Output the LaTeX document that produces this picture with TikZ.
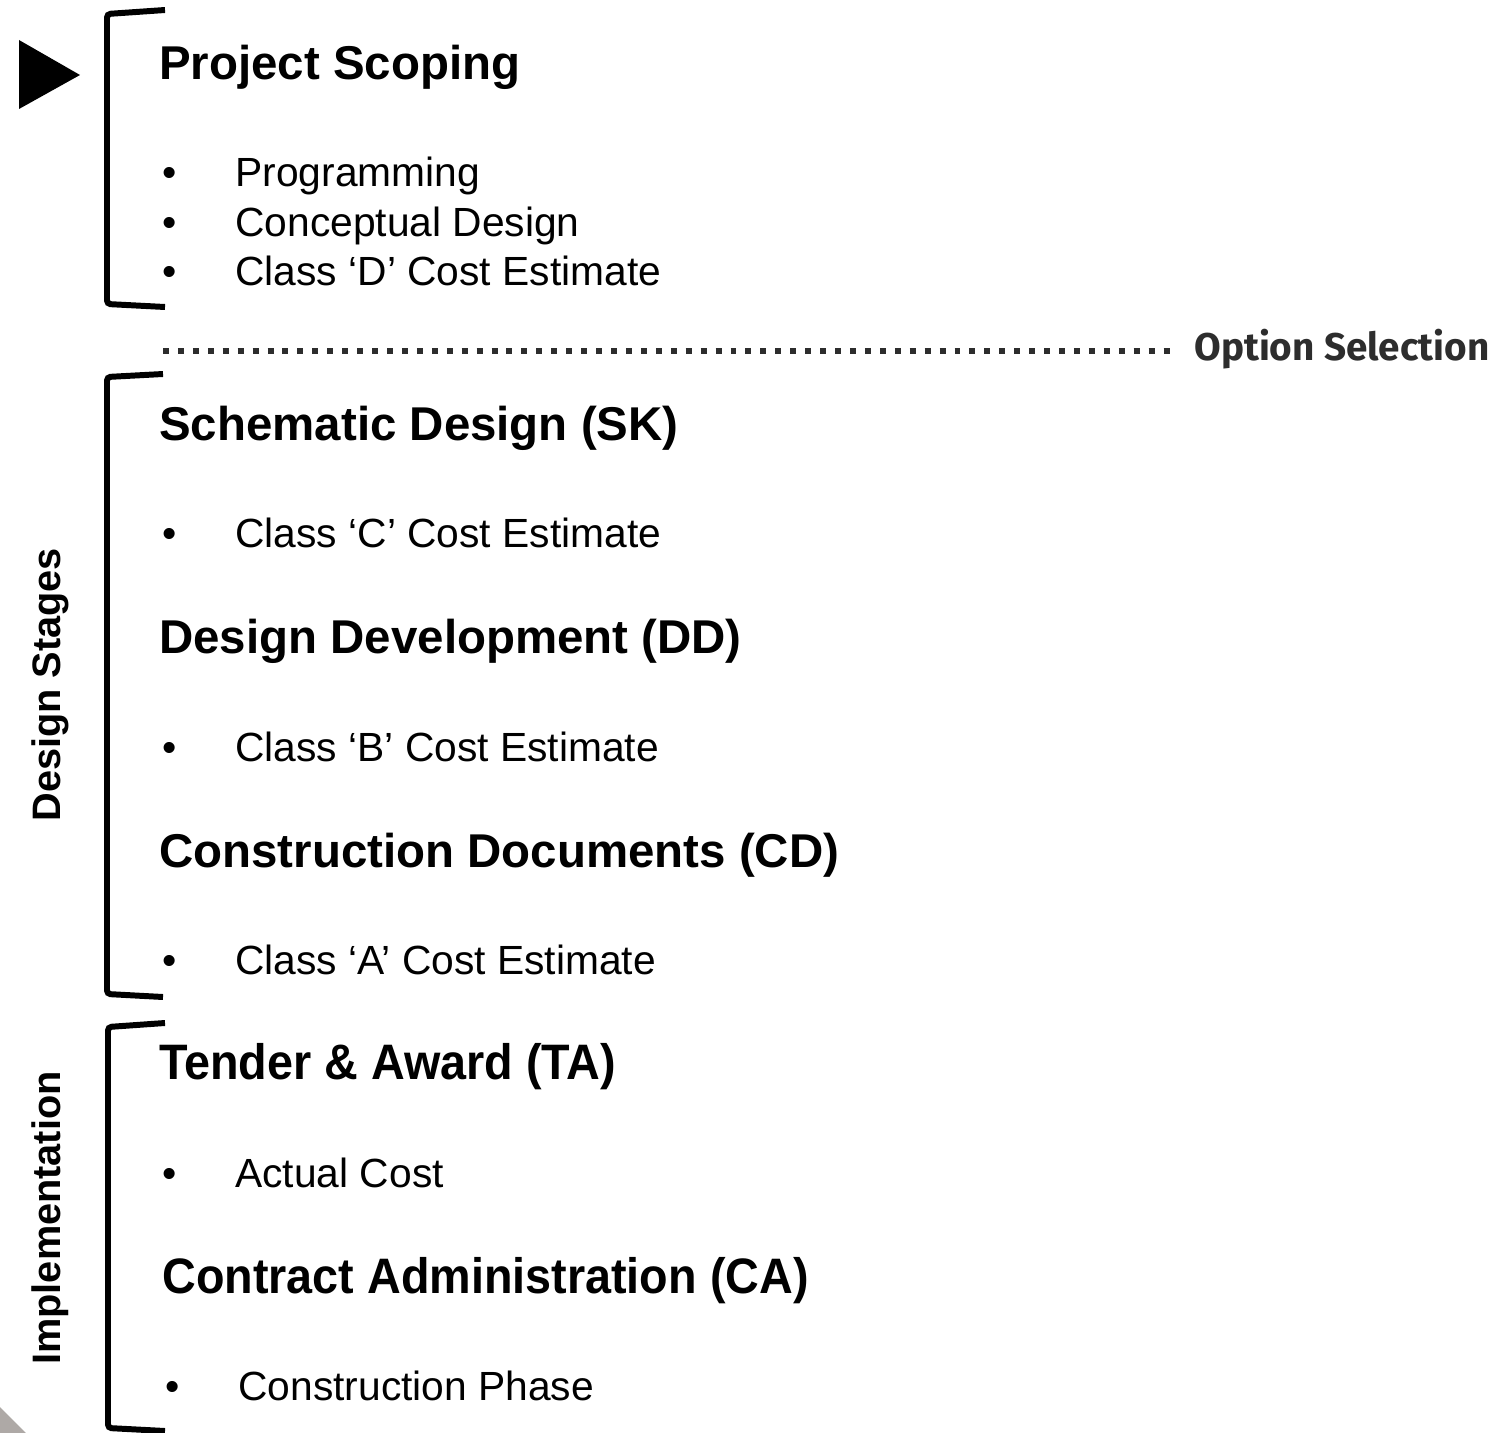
\documentclass[tikz,border=0pt]{standalone}
\usepackage{fontspec}
\setmainfont{Liberation Sans}
\newfontfamily\optfont{Fira Sans}

\tikzset{
  head/.style={anchor=base west, inner sep=0pt, font=\fontsize{27}{30}\selectfont\bfseries},
  item/.style={anchor=base west, inner sep=0pt, font=\fontsize{23.2}{26}\selectfont},
  side/.style={rotate=90, anchor=base west, inner sep=0pt, font=\fontsize{22.6}{26}\selectfont\bfseries},
  bracket/.style={line width=3.4pt, rounded corners=2pt},
}
\newcommand{\tall}[1]{\scalebox{0.985}[1.05]{#1}}
\definecolor{wedge}{RGB}{174,169,166}
\definecolor{dotgray}{RGB}{45,45,45}

\begin{document}
\begin{tikzpicture}[x=0.02cm, y=-0.02cm]
    \useasboundingbox (0,0) rectangle (1492,1433);

    % marker and corner wedge
    \fill (19,40) -- (80,75) -- (19,109) -- cycle;
    \fill[wedge] (0,1407) -- (26,1433) -- (0,1433) -- cycle;

    % brackets
    \draw[bracket] (165,10) -- (107,14) -- (107,304) -- (165,307);
    \draw[bracket] (163,374) -- (107,377) -- (107,994) -- (163,997);
    \draw[bracket] (165,1023) -- (108,1027) -- (108,1428) -- (165,1431);

    % option selection
    \coordinate (dl) at (163,351);
    \node[anchor=base west, inner sep=0pt, font=\optfont\fontsize{22}{26}\selectfont\bfseries,
          text=dotgray] (opt) at (1194,360) {Option Selection};
    \draw[dotgray, line width=3.4pt, dash pattern=on 3.4pt off 5.1pt] (dl) -- (dl -| 1172,0);

    % side labels
    \node[side] (ds) at (60,822) {Design Stages};
    \node[side] (impl) at (60,1365) {Implementation};

    % stages
    \node[head] (ps) at (159,80) {Project Scoping};
    \node[head] (sk) at (159,440) {Schematic Design (SK)};
    \node[head] (dd) at (159,653) {Design Development (DD)};
    \node[head] (cd) at (159,867) {Construction Documents (CD)};
    \node[head] (ta) at (159,1079) {\tall{Tender \& Award (TA)}};
    \node[head] (ca) at (162,1293) {\tall{Contract Administration (CA)}};

    % bullet items
    \foreach \y/\txt [count=\i] in {187/Programming, 236/Conceptual Design,
        285/Class ‘D’ Cost Estimate, 547/Class ‘C’ Cost Estimate,
        761/Class ‘B’ Cost Estimate, 974/Class ‘A’ Cost Estimate,
        1187/Actual Cost}{
      \node[item] (b\i) at (162,\y) {•};
      \node[item] (t\i) at (235,\y) {\txt};
    }
    \node[item] (b8) at (165,1400) {•};
    \node[item] (t8) at (238,1400) {Construction Phase};
\end{tikzpicture}
\end{document}
